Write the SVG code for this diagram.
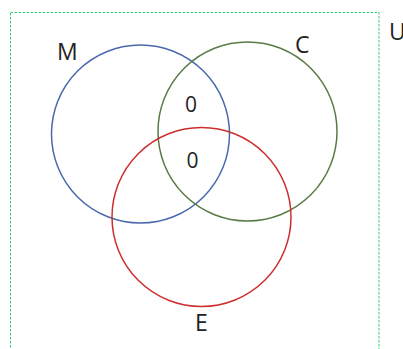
<svg xmlns="http://www.w3.org/2000/svg" width="403" height="349" viewBox="0 0 403 349">
<style>
.c{fill:none;stroke-width:1.5}
.t{font-family:"Open Sans","Liberation Sans",sans-serif;fill:#222}
.l{font-size:23px}
.n{font-size:21px;text-anchor:middle}
</style>
<rect width="403" height="349" fill="#fff"/>
<g id="universe">
<rect x="10.5" y="12.5" width="368.5" height="345" fill="none" stroke="#2ecc71" stroke-width="1" stroke-dasharray="2.5,1.5"/>
<text class="t l" x="389" y="40">U</text>
</g>
<g id="M">
<circle class="c" cx="140.5" cy="134" r="89" stroke="#4a68ad"/>
<text class="t l" x="57" y="60">M</text>
</g>
<g id="C">
<circle class="c" cx="247.5" cy="131.5" r="89.5" stroke="#5a7a45"/>
<text class="t l" x="295" y="53">C</text>
</g>
<g id="E">
<circle class="c" cx="201.5" cy="217" r="89.5" stroke="#cc2e2e"/>
<text class="t l" x="195" y="331">E</text>
</g>
<g id="labels">
<text class="t n" x="191" y="111.5">0</text>
<text class="t n" x="192.5" y="168">0</text>
</g>
<g id="connectors"></g>
</svg>
